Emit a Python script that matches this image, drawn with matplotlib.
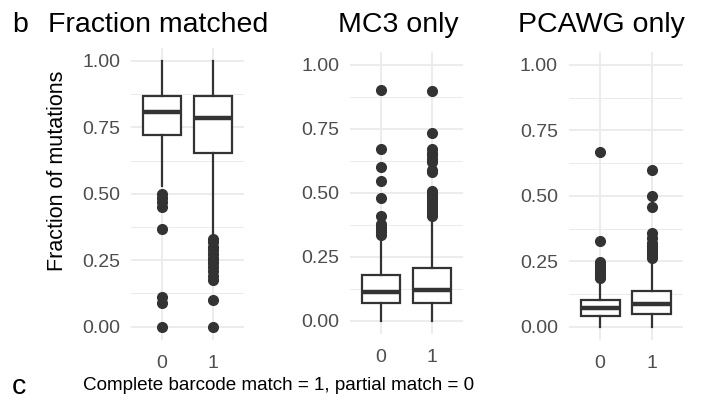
import matplotlib
matplotlib.use('Agg')
import matplotlib.pyplot as plt
from matplotlib.ticker import MultipleLocator

plt.rcParams['font.family'] = ['Liberation Sans', 'DejaVu Sans']

groups = ['0', '1']
titles = ['Fraction matched', 'MC3 only', 'PCAWG only']

# box statistics: [group 0, group 1]
matched_q1 = [0.72, 0.655]
matched_med = [0.809, 0.784]
matched_q3 = [0.869, 0.868]
matched_lo = [0.53, 0.345]
matched_hi = [1.00, 1.00]
matched_out = [
    [0.50, 0.485, 0.47, 0.45, 0.366, 0.11, 0.088, 0.0],
    [0.331, 0.32, 0.30, 0.287, 0.275, 0.26, 0.25, 0.24, 0.225, 0.21, 0.19, 0.175, 0.10, 0.0],
]

mc3_q1 = [0.068, 0.071]
mc3_med = [0.112, 0.118]
mc3_q3 = [0.18, 0.204]
mc3_lo = [0.0, 0.0]
mc3_hi = [0.32, 0.396]
mc3_out = [
    [0.90, 0.669, 0.60, 0.547, 0.479, 0.407, 0.378, 0.365, 0.355, 0.345, 0.335],
    [0.895, 0.732, 0.669, 0.655, 0.646, 0.63, 0.62, 0.589, 0.58,
     0.508, 0.50, 0.49, 0.48, 0.47, 0.46, 0.45, 0.44, 0.43, 0.42, 0.41],
]

pcawg_q1 = [0.041, 0.047]
pcawg_med = [0.07, 0.087]
pcawg_q3 = [0.102, 0.138]
pcawg_lo = [0.0, 0.0]
pcawg_hi = [0.172, 0.255]
pcawg_out = [
    [0.666, 0.329, 0.248, 0.24, 0.23, 0.22, 0.21, 0.20, 0.19, 0.185],
    [0.599, 0.50, 0.459, 0.357, 0.338, 0.319, 0.31, 0.30, 0.29, 0.28, 0.27, 0.261],
]

yticks = [0.0, 0.25, 0.5, 0.75, 1.0]
ytick_labels = ['0.00', '0.25', '0.50', '0.75', '1.00']

panels = [
    (matched_q1, matched_med, matched_q3, matched_lo, matched_hi, matched_out),
    (mc3_q1, mc3_med, mc3_q3, mc3_lo, mc3_hi, mc3_out),
    (pcawg_q1, pcawg_med, pcawg_q3, pcawg_lo, pcawg_hi, pcawg_out),
]

W, H = 702, 400
# axes boxes in pixels: left, right, top, bottom
boxes = [(131.4, 243.6, 47.7, 340.0),
         (350.4, 462.6, 51.7, 333.5),
         (569.0, 683.0, 51.9, 339.8)]

dark = '#333333'
grid = '#EBEBEB'

fig = plt.figure(figsize=(W / 100, H / 100), dpi=100)

for (l, r, t, b), (q1, med, q3, lo, hi, out) in zip(boxes, panels):
    ax = fig.add_axes([l / W, 1 - b / H, (r - l) / W, (b - t) / H])
    stats = []
    for i in range(2):
        stats.append(dict(q1=q1[i], med=med[i], q3=q3[i], whislo=lo[i], whishi=hi[i], fliers=out[i]))
    ax.bxp(stats, positions=[0, 1], widths=0.75, showcaps=False, patch_artist=True,
           boxprops=dict(facecolor='white', edgecolor=dark, linewidth=1.6),
           medianprops=dict(color=dark, linewidth=3.2, solid_capstyle='butt'),
           whiskerprops=dict(color=dark, linewidth=1.6),
           flierprops=dict(marker='o', markerfacecolor=dark, markeredgecolor=dark, markersize=7),
           zorder=3)
    ax.set_xlim(-0.6, 1.6)
    ax.set_ylim(-0.05, 1.05)
    ax.set_xticks([0, 1])
    ax.set_xticklabels(groups)
    ax.set_yticks(yticks)
    ax.set_yticklabels(ytick_labels)
    ax.yaxis.set_minor_locator(MultipleLocator(0.125))
    ax.grid(True, which='major', color=grid, linewidth=1.3, zorder=0)
    ax.grid(True, which='minor', axis='y', color=grid, linewidth=0.7, zorder=0)
    ax.set_axisbelow(True)
    for s in ax.spines.values():
        s.set_visible(False)
    ax.tick_params(which='both', length=0, labelsize=14, labelcolor='#4D4D4D')
    ax.tick_params(axis='y', pad=8)
    ax.tick_params(axis='x', pad=11)

# titles and panel letters
fig.text(12 / W, 1 - 32 / H, 'b', fontsize=20.5, va='baseline', ha='left')
fig.text(48 / W, 1 - 32 / H, titles[0], fontsize=20.5, va='baseline', ha='left')
fig.text(338 / W, 1 - 32 / H, titles[1], fontsize=20.5, va='baseline', ha='left')
fig.text(518 / W, 1 - 32 / H, titles[2], fontsize=20.5, va='baseline', ha='left')

fig.text(58 / W, 1 - 171 / H, 'Fraction of mutations', fontsize=15.5, rotation=90,
         va='center', ha='center')
fig.text(83 / W, 1 - 390 / H, 'Complete barcode match = 1, partial match = 0',
         fontsize=13.6, va='baseline', ha='left')
fig.text(12 / W, 1 - 394 / H, 'c', fontsize=20.5, va='baseline', ha='left')

fig.savefig('out.png', dpi=100)
